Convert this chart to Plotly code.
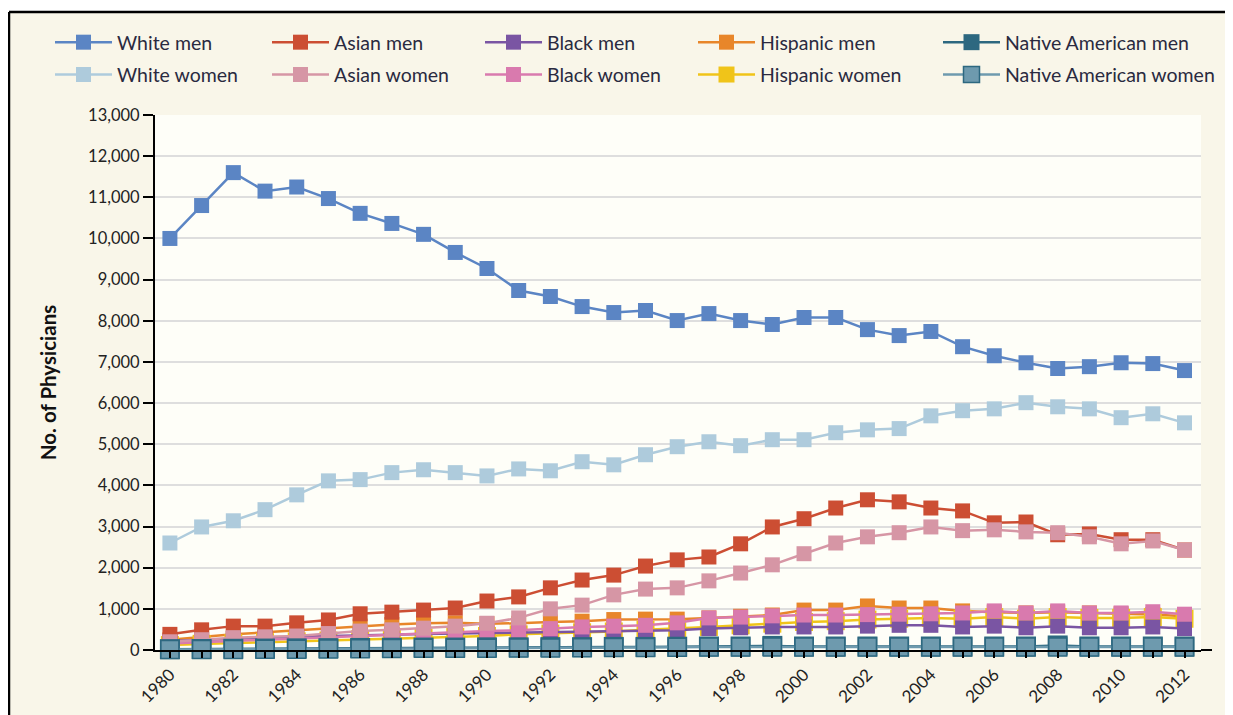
import plotly.graph_objects as go

years = list(range(1980, 2013))

white_men = [10000, 10800, 11600, 11150, 11250, 10970, 10610, 10365, 10100, 9660, 9270,
             8735, 8590, 8345, 8200, 8250, 8005, 8175, 8005, 7910, 8080, 8080, 7785,
             7640, 7740, 7370, 7150, 6980, 6840, 6885, 6980, 6960, 6790]
white_women = [2600, 2990, 3140, 3410, 3770, 4110, 4140, 4310, 4380, 4310, 4230,
               4400, 4355, 4575, 4500, 4745, 4940, 5060, 4965, 5110, 5110, 5280, 5350,
               5380, 5690, 5815, 5860, 6010, 5910, 5860, 5645, 5740, 5520]
asian_men = [380, 490, 580, 580, 660, 730, 880, 920, 970, 1020, 1190,
             1290, 1510, 1700, 1820, 2040, 2190, 2260, 2580, 2990, 3190, 3450, 3650,
             3600, 3450, 3380, 3090, 3110, 2800, 2820, 2680, 2680, 2430]
asian_women = [200, 250, 300, 320, 340, 400, 460, 490, 530, 580, 650,
               780, 1000, 1090, 1340, 1480, 1510, 1680, 1870, 2070, 2340, 2600, 2750,
               2850, 2990, 2900, 2920, 2870, 2850, 2750, 2580, 2650, 2430]
black_men = [220, 250, 280, 300, 320, 340, 360, 380, 390, 400, 410,
             420, 430, 440, 450, 460, 480, 520, 540, 560, 560, 560, 580,
             600, 600, 560, 580, 540, 580, 540, 540, 560, 520]
black_women = [160, 190, 220, 250, 280, 310, 350, 380, 410, 440, 460,
               480, 520, 560, 580, 600, 660, 780, 800, 830, 850, 850, 860,
               870, 880, 900, 950, 900, 950, 900, 900, 930, 870]
hispanic_men = [250, 320, 380, 430, 480, 520, 580, 620, 650, 660, 640,
                650, 680, 700, 740, 750, 750, 780, 820, 850, 970, 970, 1070,
                1020, 1020, 950, 920, 900, 920, 900, 880, 860, 820]
hispanic_women = [120, 150, 170, 190, 210, 230, 260, 280, 300, 320, 340,
                  380, 400, 430, 450, 490, 520, 560, 600, 640, 680, 700, 740,
                  760, 780, 760, 800, 760, 800, 780, 780, 800, 760]
native_men = [20, 25, 30, 35, 40, 45, 50, 55, 60, 60, 65,
              65, 70, 70, 75, 75, 80, 85, 85, 100, 85, 85, 85,
              85, 85, 85, 85, 85, 110, 85, 85, 85, 85]
native_women = [10, 12, 15, 18, 20, 25, 30, 35, 40, 40, 45,
                50, 50, 55, 60, 60, 65, 70, 70, 70, 70, 75, 75,
                75, 75, 75, 75, 75, 75, 75, 75, 75, 75]

tick_years = list(range(1980, 2013, 2))
y_ticks = list(range(0, 13001, 1000))

# (name, values, color, legend, size, outline)
series = [
    ("White men", white_men, "#5b85c4", "legend", 15, None),
    ("White women", white_women, "#aecbdc", "legend", 15, None),
    ("Hispanic men", hispanic_men, "#e8862a", "legend4", 15, None),
    ("Hispanic women", hispanic_women, "#f0c419", "legend4", 18, None),
    ("Black men", black_men, "#7a55a3", "legend3", 15, None),
    ("Black women", black_women, "#d97aae", "legend3", 15, None),
    ("Asian men", asian_men, "#cc4e33", "legend2", 15, None),
    ("Asian women", asian_women, "#d696a5", "legend2", 15, None),
    ("Native American men", native_men, "#2d6880", "legend5", 20, None),
    ("Native American women", native_women, "#6e9aae", "legend5", 18, "#2d6880"),
]

fig = go.Figure()
for name, vals, color, leg, size, outline in series:
    fig.add_trace(go.Scatter(
        x=years, y=vals, name=name, mode="lines+markers",
        line=dict(color=color, width=2.5),
        marker=dict(symbol="square", size=size, color=color,
                    line=dict(color=outline if outline else color, width=1.5 if outline else 0)),
        legend=leg, legendgroup=name, cliponaxis=False,
        hoverinfo="x+y+name",
    ))

# page body has an 8px margin: figure is drawn 8px right/down of the window origin
def px_x(p):
    return (p - 155) / 1046.0

def px_y(p):
    return (650 - p) / 535.0

cream = "#f9f6e9"
shapes = [
    dict(type="rect", xref="paper", yref="paper", x0=px_x(9), x1=px_x(1245),
         y0=px_y(725), y1=px_y(12), fillcolor=cream, line=dict(width=0), layer="below"),
    dict(type="rect", xref="paper", yref="paper", x0=0, x1=1, y0=0, y1=1,
         fillcolor="#fefef8", line=dict(width=0), layer="below"),
    dict(type="line", xref="paper", yref="paper", x0=px_x(9), x1=px_x(1245),
         y0=px_y(12), y1=px_y(12), line=dict(color="black", width=2.5)),
    dict(type="line", xref="paper", yref="paper", x0=px_x(9), x1=px_x(9),
         y0=px_y(12), y1=px_y(725), line=dict(color="black", width=2.5)),
    dict(type="line", xref="paper", yref="paper", x0=1, x1=px_x(1212),
         y0=0, y1=0, line=dict(color="black", width=2)),
]

legend_font = dict(family="Lato", size=19.5, color="#2a2a40")
leg_x = [55, 272, 485, 698, 943]
legends = {}
for i, lx in enumerate(leg_x):
    key = "legend" if i == 0 else f"legend{i+1}"
    legends[key] = dict(
        x=px_x(lx - 5), y=px_y(23), xanchor="left", yanchor="top",
        orientation="v", bgcolor="rgba(0,0,0,0)", font=legend_font,
        tracegroupgap=4, itemwidth=57,
    )

fig.update_layout(
    width=1225, height=707,
    margin=dict(l=147, r=32, t=107, b=65, autoexpand=False),
    paper_bgcolor="white",
    plot_bgcolor="#fefef8",
    shapes=shapes,
    showlegend=True,
    **legends,
    xaxis=dict(
        range=[1979.53, 2012.52],
        tickvals=tick_years, ticktext=[str(y) for y in tick_years],
        tickangle=-45, ticks="outside", ticklen=6, tickcolor="black", tickwidth=1.5,
        minor=dict(dtick=1, tick0=1980, ticks="outside", ticklen=6, tickcolor="black", tickwidth=1.5, showgrid=False),
        showline=True, linecolor="black", linewidth=2,
        showgrid=False, zeroline=False,
        tickfont=dict(family="Lato", size=17, color="#222"),
    ),
    yaxis=dict(
        range=[0, 13000],
        tickvals=y_ticks, ticktext=[f"{v:,}" for v in y_ticks],
        ticks="outside", ticklen=10, tickcolor="black", tickwidth=1.5,
        showline=True, linecolor="black", linewidth=2,
        showgrid=True, gridcolor="#dedede", gridwidth=1.5, zeroline=False,
        tickfont=dict(family="Lato", size=16.5, color="#222"),
        title=dict(text="<b>No. of Physicians</b>", font=dict(family="Lato", size=20.5, color="#111"), standoff=26),
    ),
)

fig.write_html("out.html")
